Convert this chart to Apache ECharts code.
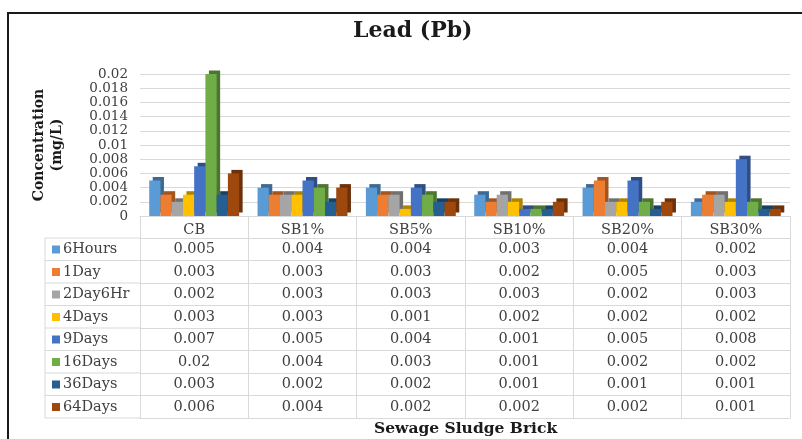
<!DOCTYPE html>
<html>
<head>
<meta charset="utf-8">
<script src="https://cdn.jsdelivr.net/npm/echarts@6/dist/echarts.min.js"></script>
<style>
html,body{margin:0;padding:0;background:#fff;}
#main{width:802px;height:439px;}
</style>
</head>
<body>
<div id="main"></div>
<script>
var categories = ['CB', 'SB1%', 'SB5%', 'SB10%', 'SB20%', 'SB30%'];
var seriesNames = ['6Hours', '1Day', '2Day6Hr', '4Days', '9Days', '16Days', '36Days', '64Days'];
var hours6   = [0.005, 0.004, 0.004, 0.003, 0.004, 0.002];
var day1     = [0.003, 0.003, 0.003, 0.002, 0.005, 0.003];
var day2hr6  = [0.002, 0.003, 0.003, 0.003, 0.002, 0.003];
var days4    = [0.003, 0.003, 0.001, 0.002, 0.002, 0.002];
var days9    = [0.007, 0.005, 0.004, 0.001, 0.005, 0.008];
var days16   = [0.02, 0.004, 0.003, 0.001, 0.002, 0.002];
var days36   = [0.003, 0.002, 0.002, 0.001, 0.001, 0.001];
var days64   = [0.006, 0.004, 0.002, 0.002, 0.002, 0.001];
var yTicks = { min: 0, max: 0.02, interval: 0.002 };

var allValues = [hours6, day1, day2hr6, days4, days9, days16, days36, days64];
var colors = ['#5B9BD5', '#ED7D31', '#A5A5A5', '#FFC000', '#4472C4', '#70AD47', '#255E91', '#9E480E'];

function darker(hex, f) {
  var n = parseInt(hex.slice(1), 16);
  var r = Math.round(((n >> 16) & 255) * f), g = Math.round(((n >> 8) & 255) * f), b = Math.round((n & 255) * f);
  return 'rgb(' + r + ',' + g + ',' + b + ')';
}

var FONT = 'DejaVu Serif';
var TXT = '#404040';
var LINE = '#d9d9d9';
var TFS = 14.5;
var gridLeft = 140, gridRight = 12, gridTop = 74, floorY = 216;
var headerH = 22, rowH = 22.5;

var xAxes = [{
  type: 'category', data: categories, gridIndex: 0, position: 'bottom', offset: 0,
  axisLine: { show: true, onZero: false, lineStyle: { color: LINE } },
  axisTick: { show: true, interval: 0, length: headerH + rowH * 8, lineStyle: { color: LINE } },
  axisLabel: { interval: 0, margin: 14.5, verticalAlign: 'middle', color: TXT, fontFamily: FONT, fontSize: TFS }
}];
allValues.forEach(function (vals, k) {
  xAxes.push({
    type: 'category', data: categories, gridIndex: 0, position: 'bottom',
    offset: headerH + rowH * k,
    axisLine: { show: true, onZero: false, lineStyle: { color: LINE } },
    axisTick: { show: false },
    axisLabel: { interval: 0, margin: 11.5, verticalAlign: 'middle', color: TXT, fontFamily: FONT, fontSize: TFS,
      formatter: function (v, idx) { return String(vals[idx]); } }
  });
});
xAxes.push({
  type: 'category', data: categories, gridIndex: 0, position: 'bottom',
  offset: headerH + rowH * 8,
  axisLine: { show: true, onZero: false, lineStyle: { color: LINE } },
  axisTick: { show: false }, axisLabel: { show: false }
});

var series = seriesNames.map(function (name, i) {
  return {
    name: name, type: 'bar', xAxisIndex: 0, yAxisIndex: 0,
    data: allValues[i],
    barGap: '0%', barCategoryGap: '17%',
    itemStyle: {
      color: colors[i],
      shadowColor: darker(colors[i], 0.68),
      shadowBlur: 0, shadowOffsetX: 3.5, shadowOffsetY: -3.5
    },
    emphasis: { disabled: true }
  };
});

var graphics = [{
  type: 'rect', shape: { x: 8, y: 13, width: 830, height: 470 },
  style: { fill: 'none', stroke: '#1a1a1a', lineWidth: 2 }, silent: true
}];
var tableLeft = 45;
for (var r = 0; r <= 8; r++) {
  var yy = floorY + headerH + rowH * r;
  graphics.push({ type: 'line', shape: { x1: tableLeft, y1: yy, x2: gridLeft, y2: yy },
    style: { stroke: LINE, lineWidth: 1 }, silent: true });
}
graphics.push({ type: 'line', shape: { x1: tableLeft, y1: floorY + headerH, x2: tableLeft, y2: floorY + headerH + rowH * 8 },
  style: { stroke: LINE, lineWidth: 1 }, silent: true });

var option = {
  animation: false,
  backgroundColor: '#fff',
  color: colors,
  title: [{
    text: 'Lead (Pb)', left: 353, top: 20, padding: 0,
    textStyle: { fontFamily: FONT, fontWeight: 'bold', fontSize: 22, color: '#1a1a1a' }
  }, {
    text: 'Sewage Sludge Brick', left: 374, top: 421, padding: 0,
    textStyle: { fontFamily: FONT, fontWeight: 'bold', fontSize: 15.5, color: '#1a1a1a' }
  }],
  legend: {
    data: seriesNames, orient: 'vertical', left: 52, top: 241.5, padding: 0,
    itemWidth: 8, itemHeight: 8, itemGap: 6.5, icon: 'rect', selectedMode: false,
    textStyle: { fontFamily: FONT, fontSize: TFS, color: TXT, lineHeight: 16, padding: [0, 0, 0, -2] }
  },
  grid: { left: gridLeft, right: gridRight, top: gridTop, bottom: 439 - floorY, containLabel: false },
  xAxis: xAxes,
  yAxis: {
    type: 'value', min: yTicks.min, max: yTicks.max, interval: yTicks.interval,
    name: 'Concentration\n(mg/L)', nameLocation: 'middle', nameGap: 74, nameRotate: 90,
    nameTextStyle: { fontFamily: FONT, fontWeight: 'bold', fontSize: 14, color: '#1a1a1a', lineHeight: 18 },
    axisLine: { show: false }, axisTick: { show: false },
    axisLabel: { margin: 12, color: TXT, fontFamily: FONT, fontSize: 13.5 },
    splitLine: { lineStyle: { color: LINE } }
  },
  graphic: graphics,
  series: series
};

var chart = echarts.init(document.getElementById('main'), null, { renderer: 'canvas' });
chart.setOption(option);
</script>
</body>
</html>
